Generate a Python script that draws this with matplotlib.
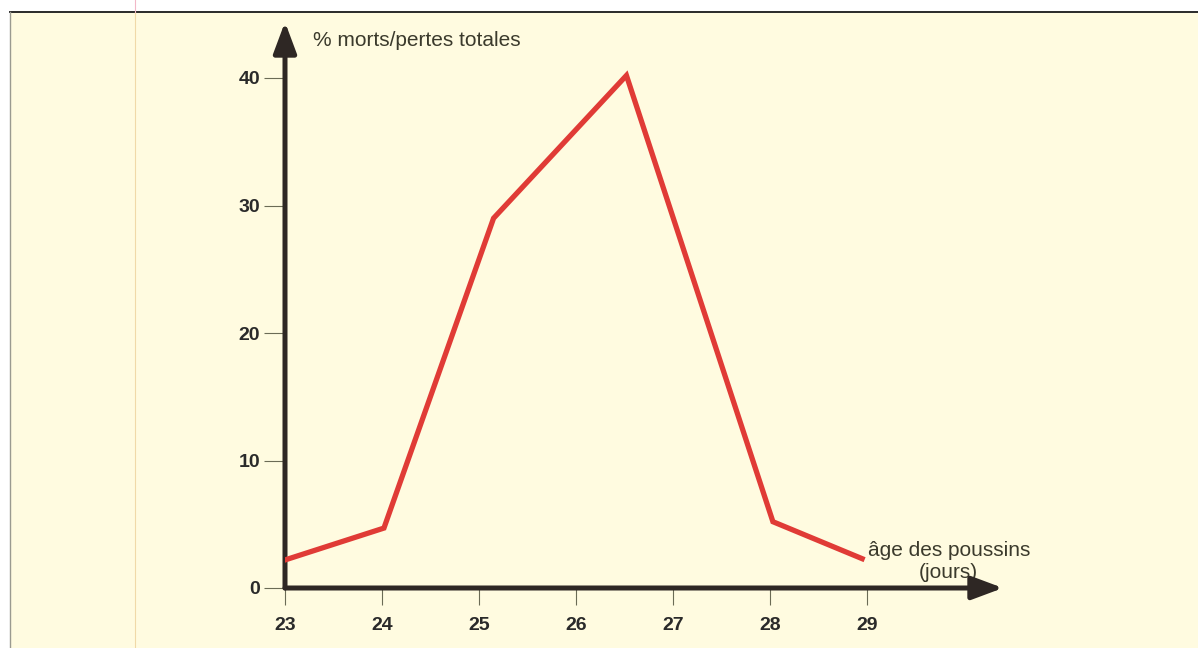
import matplotlib
matplotlib.use("Agg")
import matplotlib.pyplot as plt
from matplotlib.patches import Rectangle
from matplotlib.lines import Line2D

# données
ages = [23.0, 24.02, 25.15, 26.52, 28.03, 28.95]
pertes = [2.2, 4.7, 29.0, 40.2, 5.2, 2.3]
x_ticks = [23, 24, 25, 26, 27, 28, 29]
y_ticks = [0, 10, 20, 30, 40]

W, H = 1198, 648
plt.rcParams['font.family'] = ['Liberation Sans', 'DejaVu Sans']

fig = plt.figure(figsize=(W / 100, H / 100), dpi=100, facecolor='white')

# fond crème encadré
fig.patches.append(Rectangle((10 / W, 0), 1 - 10 / W, 1 - 12 / H, transform=fig.transFigure,
                             facecolor='#fffbe0', edgecolor='none', zorder=-5))
fig.lines.append(Line2D([10 / W, 1], [1 - 12 / H, 1 - 12 / H], transform=fig.transFigure,
                        color='#2a2a2a', lw=1.4, zorder=-4))
fig.lines.append(Line2D([10 / W, 10 / W], [0, 1 - 12 / H], transform=fig.transFigure,
                        color='#9a9a90', lw=1.0, zorder=-4))
fig.lines.append(Line2D([135 / W, 135 / W], [0, 1 - 12 / H], transform=fig.transFigure,
                        color='#f0d9a8', lw=0.8, zorder=-4))
fig.lines.append(Line2D([135 / W, 135 / W], [1 - 12 / H, 1], transform=fig.transFigure,
                        color='#f2b8c8', lw=0.8, zorder=-4))

# axes placés au pixel près
x0, x1 = 285, 1003
y0, y1 = 588, 22
ax = fig.add_axes([x0 / W, 1 - y0 / H, (x1 - x0) / W, (y0 - y1) / H])
ax.set_zorder(5)
ax.set_xlim(23, 23 + (x1 - x0) / 97.0)
ax.set_ylim(0, (y0 - y1) / 12.75)
ax.patch.set_alpha(0)
for s in ax.spines.values():
    s.set_visible(False)

axis_col = '#2e2724'
arrow = dict(arrowstyle='-|>,head_length=0.75,head_width=0.28', lw=3.6,
             color=axis_col, mutation_scale=25, shrinkA=0, shrinkB=0)
ax.annotate('', xy=(0, 1), xytext=(0, 0), xycoords='axes fraction', arrowprops=arrow)
ax.annotate('', xy=(1, 0), xytext=(0, 0), xycoords='axes fraction', arrowprops=arrow)

ax.plot(ages, pertes, color='#e03b36', lw=3.8, solid_joinstyle='miter', zorder=3)

ax.set_xticks(x_ticks)
ax.set_yticks(y_ticks)
ax.tick_params(axis='x', direction='out', length=12, width=0.8, color='#6b6b55',
               pad=9, labelsize=14)
ax.tick_params(axis='y', direction='out', length=15, width=0.8, color='#6b6b55',
               pad=3, labelsize=14)
for lab in ax.get_xticklabels() + ax.get_yticklabels():
    lab.set_fontweight('bold')
    lab.set_color('#2a2a2a')

txt_col = '#3b3a2c'
fig.text(313 / W, 1 - 40 / H, '% morts/pertes totales', fontsize=15, color=txt_col,
         ha='left', va='center')
fig.text(949 / W, 1 - 550 / H, 'âge des poussins', fontsize=15, color=txt_col,
         ha='center', va='center')
fig.text(948 / W, 1 - 573 / H, '(jours)', fontsize=15, color=txt_col,
         ha='center', va='center')

fig.savefig('out.png', dpi=100, facecolor=fig.get_facecolor())
